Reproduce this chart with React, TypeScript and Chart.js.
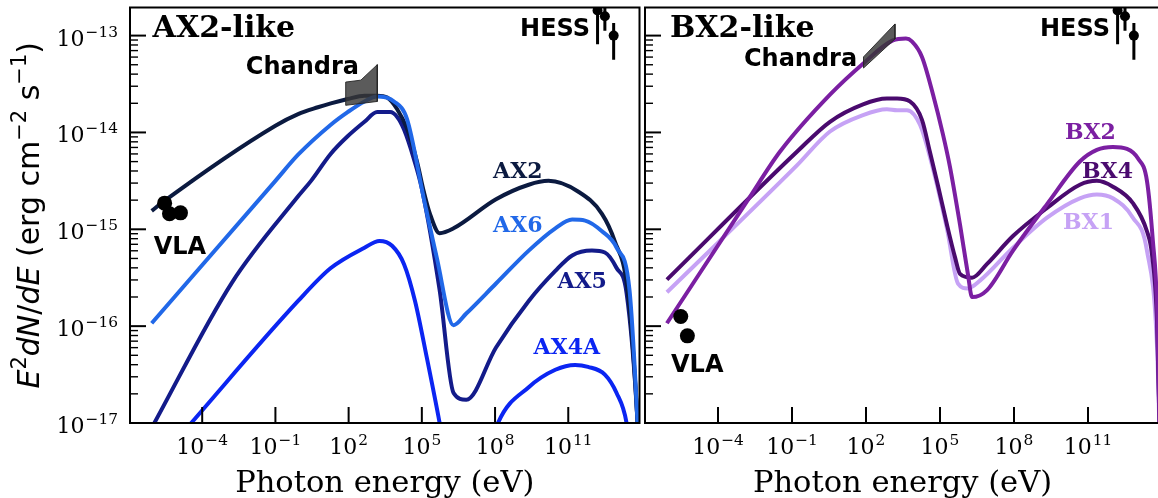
import React, { useEffect, useRef } from "react";
import { Chart, registerables } from "chart.js";

Chart.register(...registerables);

// Axis limits: photon energy (eV) and E^2 dN/dE (erg cm^-2 s^-1)
const X_MIN = 1.1e-7;
const X_MAX = 8.3e13;
const Y_MIN = 1e-17;
const Y_MAX = 1.95e-13;
const X_TICKS = [1e-4, 1e-1, 1e2, 1e5, 1e8, 1e11];
const Y_TICKS = [1e-17, 1e-16, 1e-15, 1e-14, 1e-13];

// Model spectra, log10(E / eV) against log10(E^2 dN/dE)
const AX2_LOGE = [-6.07, -5.62, -1.0, -0.07, 0.74, 1.27, 1.96, 2.65, 3.17, 3.58, 3.99, 4.39, 4.8, 5.08, 5.32, 5.73, 6.3, 8.04, 9.38, 10.19, 11.4, 12.38, 12.9, 13.43, 13.84, 13.92];
const AX2_LOGF = [-14.81, -14.72, -13.93, -13.81, -13.74, -13.7, -13.655, -13.62, -13.62, -13.64, -13.76, -13.96, -14.3, -14.61, -14.83, -15.04, -14.99, -14.69, -14.54, -14.5, -14.61, -14.84, -15.12, -15.63, -17.0, -17.48];

const AX6_LOGE = [-6.07, -1.0, -0.07, 1.27, 1.96, 2.65, 3.17, 3.86, 4.39, 5.08, 5.61, 6.3, 6.82, 8.04, 9.38, 10.47, 11.16, 11.69, 12.38, 12.98, 13.51, 13.84, 13.92];
const AX6_LOGF = [-15.97, -14.5, -14.23, -13.92, -13.79, -13.68, -13.63, -13.68, -13.86, -14.68, -15.29, -15.99, -15.87, -15.56, -15.22, -14.99, -14.9, -14.91, -15.02, -15.19, -15.63, -17.0, -17.48];

const AX5_LOGE = [-6.07, -2.78, -0.07, 0.46, 1.27, 1.96, 2.65, 3.17, 3.7, 3.99, 4.27, 4.67, 5.0, 5.73, 6.3, 6.82, 8.04, 9.38, 10.47, 11.16, 11.97, 12.5, 12.98, 13.39, 13.84, 13.92];
const AX5_LOGF = [-17.05, -15.55, -14.66, -14.5, -14.22, -14.04, -13.89, -13.79, -13.79, -13.84, -13.97, -14.27, -14.58, -15.63, -16.69, -16.76, -16.22, -15.74, -15.43, -15.27, -15.22, -15.24, -15.4, -15.66, -17.0, -17.48];

const AX4A_LOGE = [-6.07, -4.45, -0.07, 1.27, 2.65, 3.26, 3.78, 4.27, 4.72, 5.2, 5.73, 5.85, 7.0, 7.92, 8.12, 9.38, 10.47, 11.28, 11.81, 12.5, 12.98, 13.39, 13.47];
const AX4A_LOGF = [-17.47, -17.0, -15.74, -15.4, -15.19, -15.12, -15.17, -15.36, -15.74, -16.32, -17.0, -17.17, null, -17.17, -17.0, -16.63, -16.45, -16.4, -16.42, -16.5, -16.69, -17.0, -17.17];

const BX2_LOGE = [-6.07, -2.82, -1.49, 0.54, 1.88, 3.09, 3.62, 3.86, 4.27, 4.72, 5.12, 5.4, 5.81, 6.13, 6.3, 6.9, 7.96, 9.34, 10.67, 11.36, 12.01, 12.58, 13.03, 13.39, 13.63, 13.8, 13.92];
const BX2_LOGF = [-15.97, -14.71, -14.2, -13.61, -13.29, -13.05, -13.03, -13.06, -13.22, -13.61, -14.02, -14.35, -14.95, -15.46, -15.7, -15.63, -15.22, -14.74, -14.3, -14.18, -14.15, -14.17, -14.27, -14.5, -15.12, -15.81, -17.3];

const BX4_LOGE = [-6.07, -0.8, 0.54, 1.88, 2.85, 3.26, 3.78, 4.27, 4.59, 4.92, 5.28, 5.61, 5.81, 6.3, 6.9, 7.96, 9.34, 10.67, 11.36, 12.01, 12.82, 13.39, 13.59, 13.8, 13.92];
const BX4_LOGF = [-15.52, -14.2, -13.89, -13.71, -13.65, -13.65, -13.68, -13.87, -14.2, -14.55, -14.95, -15.29, -15.46, -15.5, -15.36, -15.07, -14.78, -14.54, -14.5, -14.56, -14.73, -15.02, -15.25, -15.97, -17.3];

const BX1_LOGE = [-6.07, -0.8, 0.54, 1.88, 2.85, 3.26, 3.66, 4.19, 4.59, 5.28, 5.73, 6.13, 6.62, 7.96, 9.34, 10.67, 11.36, 12.01, 12.82, 13.39, 13.8, 13.92];
const BX1_LOGF = [-15.65, -14.34, -13.99, -13.82, -13.76, -13.77, -13.77, -13.92, -14.25, -14.99, -15.56, -15.61, -15.53, -15.19, -14.88, -14.68, -14.64, -14.68, -14.88, -15.22, -16.22, -17.3];

// Observations
const VLA_A_LOGE = [-5.54, -5.34, -4.89];
const VLA_A_LOGF = [-14.73, -14.84, -14.83];
const VLA_B_LOGE = [-5.51, -5.24];
const VLA_B_LOGF = [-15.9, -16.1];
const HESS_LOGE = [12.2, 12.5, 12.86];
const HESS_LOGF = [-12.74, -12.8, -13.0];
const HESS_LO = [-13.09, -12.95, -13.25];
const HESS_HI = [-12.55, -12.66, -12.87];

// Chandra bow-ties (outline, closed)
const CHANDRA_A_LOGE = [1.88, 2.5, 3.175, 3.175, 1.88, 1.88];
const CHANDRA_A_LOGF = [-13.48, -13.46, -13.3, -13.68, -13.72, -13.48];
const CHANDRA_B_LOGE = [1.9, 3.175, 3.175, 1.9, 1.9];
const CHANDRA_B_LOGF = [-13.22, -12.88, -13.035, -13.335, -13.22];

const COLORS = {
  AX2: "#0b1a40",
  AX6: "#2168e8",
  AX5: "#131b8a",
  AX4A: "#0b25f2",
  BX2: "#7b1fa2",
  BX4: "#4a0a6e",
  BX1: "#c6a2f5",
};

const SERIF = "'DejaVu Serif'";
const SANS = "'DejaVu Sans'";

type Note = { text: string; x: number; y: number; font: string; color: string; align: CanvasTextAlign };

const LEFT_NOTES: Note[] = [
  { text: "AX2-like", x: 9.3e-7, y: 9.6e-14, font: `bold 30px ${SERIF}`, color: "#000", align: "left" },
  { text: "Chandra", x: 6.1e-3, y: 4.0e-14, font: `bold 24px ${SANS}`, color: "#000", align: "left" },
  { text: "HESS", x: 7.8e11, y: 1.0e-13, font: `bold 24px ${SANS}`, color: "#000", align: "right" },
  { text: "VLA", x: 1.03e-6, y: 5.6e-16, font: `bold 24px ${SANS}`, color: "#000", align: "left" },
  { text: "AX2", x: 8.3e7, y: 3.4e-15, font: `bold 22px ${SERIF}`, color: COLORS.AX2, align: "left" },
  { text: "AX6", x: 8.3e7, y: 9.4e-16, font: `bold 22px ${SERIF}`, color: COLORS.AX6, align: "left" },
  { text: "AX5", x: 3.6e10, y: 2.5e-16, font: `bold 22px ${SERIF}`, color: COLORS.AX5, align: "left" },
  { text: "AX4A", x: 3.8e9, y: 5.1e-17, font: `bold 22px ${SERIF}`, color: COLORS.AX4A, align: "left" },
];

const RIGHT_NOTES: Note[] = [
  { text: "BX2-like", x: 1.13e-6, y: 9.6e-14, font: `bold 30px ${SERIF}`, color: "#000", align: "left" },
  { text: "Chandra", x: 1.13e-3, y: 4.9e-14, font: `bold 24px ${SANS}`, color: "#000", align: "left" },
  { text: "HESS", x: 7.8e11, y: 1.0e-13, font: `bold 24px ${SANS}`, color: "#000", align: "right" },
  { text: "VLA", x: 1.25e-6, y: 3.4e-17, font: `bold 24px ${SANS}`, color: "#000", align: "left" },
  { text: "BX2", x: 1.16e10, y: 8.5e-15, font: `bold 22px ${SERIF}`, color: COLORS.BX2, align: "left" },
  { text: "BX4", x: 5.7e10, y: 3.4e-15, font: `bold 22px ${SERIF}`, color: COLORS.BX4, align: "left" },
  { text: "BX1", x: 9.7e9, y: 1.0e-15, font: `bold 22px ${SERIF}`, color: COLORS.BX1, align: "left" },
];

const toXY = (logE: number[], logF: (number | null)[]) =>
  logE.map((e, i) => ({ x: Math.pow(10, e), y: logF[i] === null ? null : Math.pow(10, logF[i] as number) }));

const curve = (label: string, logE: number[], logF: (number | null)[], color: string, order: number) => ({
  label,
  data: toXY(logE, logF),
  borderColor: color,
  backgroundColor: color,
  borderWidth: 4,
  pointRadius: 0,
  cubicInterpolationMode: "monotone" as const,
  spanGaps: false,
  fill: false,
  clip: 0,
  borderJoinStyle: "round" as const,
  order,
});

const bowtie = (logE: number[], logF: number[]) => ({
  label: "Chandra",
  data: toXY(logE, logF),
  borderColor: "rgba(35,35,35,0.9)",
  backgroundColor: "rgba(55,55,55,0.82)",
  borderWidth: 1,
  pointRadius: 0,
  tension: 0,
  fill: "shape",
  clip: 0,
  order: 1,
});

const markers = (label: string, logE: number[], logF: number[], radius: number) => ({
  label,
  data: toXY(logE, logF),
  showLine: false,
  pointRadius: radius,
  pointBackgroundColor: "#000",
  pointBorderWidth: 0,
  borderColor: "#000",
  clip: 0,
  order: 0,
});

const errorBars = () =>
  HESS_LOGE.map((e, i) => ({
    label: "HESS error",
    data: toXY([e, e], [HESS_LO[i], HESS_HI[i]]),
    borderColor: "#000",
    borderWidth: 3,
    pointRadius: 0,
    clip: 0,
    order: 0,
  }));

function drawPow10(ctx: CanvasRenderingContext2D, value: number, x: number, baseY: number, align: "right" | "center") {
  const exp = Math.round(Math.log10(value));
  const expText = (exp < 0 ? "\u2212" : "") + Math.abs(exp);
  ctx.font = `22px ${SERIF}`;
  const wBase = ctx.measureText("10").width;
  ctx.font = `15.4px ${SERIF}`;
  const wExp = ctx.measureText(expText).width;
  const gap = 1;
  const total = wBase + gap + wExp;
  const x0 = align === "right" ? x - total : x - total / 2;
  ctx.textAlign = "left";
  ctx.textBaseline = "alphabetic";
  ctx.font = `22px ${SERIF}`;
  ctx.fillText("10", x0, baseY);
  ctx.font = `15.4px ${SERIF}`;
  ctx.fillText(expText, x0 + wBase + gap, baseY - 9);
}

function drawYTitle(ctx: CanvasRenderingContext2D, baseX: number, cy: number) {
  const s = 30;
  const it = `italic ${s}px ${SANS}`;
  const rg = `${s}px ${SANS}`;
  const sp = `${(s * 0.7).toFixed(1)}px ${SANS}`;
  const rise = 13;
  const segs: [string, string, number][] = [
    ["E", it, 0],
    ["2", sp, rise],
    ["dN", it, 0],
    ["/", rg, 0],
    ["dE", it, 0],
    [" (erg cm", rg, 0],
    ["\u22122", sp, rise],
    [" s", rg, 0],
    ["\u22121", sp, rise],
    [")", rg, 0],
  ];
  let total = 0;
  const widths = segs.map(([t, f]) => {
    ctx.font = f;
    const w = ctx.measureText(t).width;
    total += w;
    return w;
  });
  ctx.save();
  ctx.translate(baseX, cy);
  ctx.rotate(-Math.PI / 2);
  ctx.textAlign = "left";
  ctx.textBaseline = "alphabetic";
  ctx.fillStyle = "#000";
  let x = -total / 2;
  segs.forEach(([t, f, r], i) => {
    ctx.font = f;
    ctx.fillText(t, x, -r);
    x += widths[i];
  });
  ctx.restore();
}

function panelDecor(opts: { yLabels: boolean; notes: Note[] }) {
  return {
    id: "panelDecor",
    afterDraw(chart: any) {
      const { ctx, chartArea: a, scales } = chart;
      const xs = scales.x;
      const ys = scales.y;
      ctx.save();
      ctx.strokeStyle = "#000";
      ctx.fillStyle = "#000";
      ctx.lineCap = "butt";
      const seg = (x1: number, y1: number, x2: number, y2: number, w: number) => {
        ctx.lineWidth = w;
        ctx.beginPath();
        ctx.moveTo(x1, y1);
        ctx.lineTo(x2, y2);
        ctx.stroke();
      };
      // inward ticks on the left spine
      for (const v of Y_TICKS) {
        const py = ys.getPixelForValue(v);
        seg(a.left, py, a.left + 16, py, 2);
        for (let k = 2; k <= 9; k++) {
          const mv = k * v;
          if (mv > Y_MAX) break;
          const my = ys.getPixelForValue(mv);
          seg(a.left, my, a.left + 8, my, 1.4);
        }
      }
      // inward ticks on the bottom spine
      for (const v of X_TICKS) {
        const px = xs.getPixelForValue(v);
        seg(px, a.bottom, px, a.bottom - 16, 2);
      }
      ctx.lineWidth = 2;
      ctx.strokeRect(a.left, a.top, a.right - a.left, a.bottom - a.top);

      // tick labels
      for (const v of X_TICKS) drawPow10(ctx, v, xs.getPixelForValue(v), a.bottom + 31, "center");
      if (opts.yLabels) {
        for (const v of Y_TICKS) drawPow10(ctx, v, a.left - 12, ys.getPixelForValue(v) + 10, "right");
        drawYTitle(ctx, 39, (a.top + a.bottom) / 2);
      }

      // annotations
      ctx.textBaseline = "alphabetic";
      for (const n of opts.notes) {
        ctx.font = n.font;
        ctx.fillStyle = n.color;
        ctx.textAlign = n.align;
        ctx.fillText(n.text, xs.getPixelForValue(n.x), ys.getPixelForValue(n.y));
      }
      ctx.restore();
    },
  };
}

function makeConfig(datasets: any[], yWidth: number, padRight: number, yLabels: boolean, notes: Note[]) {
  return {
    type: "line" as const,
    data: { datasets },
    options: {
      responsive: false,
      animation: false as const,
      devicePixelRatio: 1,
      events: [] as any[],
      layout: { padding: { left: 0, right: padRight, top: 5, bottom: 0 } },
      plugins: { legend: { display: false }, tooltip: { enabled: false } },
      scales: {
        x: {
          type: "logarithmic" as const,
          min: X_MIN,
          max: X_MAX,
          bounds: "data" as const,
          afterBuildTicks: (s: any) => {
            s.ticks = X_TICKS.map((value) => ({ value }));
          },
          afterFit: (s: any) => {
            s.height = 75;
          },
          ticks: { display: false },
          grid: { display: false, drawTicks: false },
          border: { display: false },
          title: {
            display: true,
            text: "Photon energy (eV)",
            color: "#000",
            font: { family: "DejaVu Serif", size: 30.5, lineHeight: 0.9 },
            padding: { top: 0, bottom: 0 },
          },
        },
        y: {
          type: "logarithmic" as const,
          min: Y_MIN,
          max: Y_MAX,
          bounds: "data" as const,
          afterBuildTicks: (s: any) => {
            s.ticks = Y_TICKS.map((value) => ({ value }));
          },
          afterFit: (s: any) => {
            s.width = yWidth;
          },
          ticks: { display: false },
          grid: { display: false, drawTicks: false },
          border: { display: false },
        },
      },
    },
    plugins: [panelDecor({ yLabels, notes })],
  };
}

export default function App() {
  const leftRef = useRef<HTMLCanvasElement>(null);
  const rightRef = useRef<HTMLCanvasElement>(null);

  useEffect(() => {
    const leftSets = [
      markers("VLA", VLA_A_LOGE, VLA_A_LOGF, 7.5),
      markers("HESS", HESS_LOGE, HESS_LOGF, 5),
      ...errorBars(),
      bowtie(CHANDRA_A_LOGE, CHANDRA_A_LOGF),
      curve("AX6", AX6_LOGE, AX6_LOGF, COLORS.AX6, 2),
      curve("AX2", AX2_LOGE, AX2_LOGF, COLORS.AX2, 3),
      curve("AX5", AX5_LOGE, AX5_LOGF, COLORS.AX5, 4),
      curve("AX4A", AX4A_LOGE, AX4A_LOGF, COLORS.AX4A, 5),
    ];
    const rightSets = [
      markers("VLA", VLA_B_LOGE, VLA_B_LOGF, 7.5),
      markers("HESS", HESS_LOGE, HESS_LOGF, 5),
      ...errorBars(),
      bowtie(CHANDRA_B_LOGE, CHANDRA_B_LOGF),
      curve("BX2", BX2_LOGE, BX2_LOGF, COLORS.BX2, 2),
      curve("BX4", BX4_LOGE, BX4_LOGF, COLORS.BX4, 3),
      curve("BX1", BX1_LOGE, BX1_LOGF, COLORS.BX1, 4),
    ];
    const left = new Chart(leftRef.current as HTMLCanvasElement, makeConfig(leftSets, 130, 2, true, LEFT_NOTES) as any);
    const right = new Chart(rightRef.current as HTMLCanvasElement, makeConfig(rightSets, 20, 10, false, RIGHT_NOTES) as any);
    return () => {
      left.destroy();
      right.destroy();
    };
  }, []);

  return (
    <div
      style={{
        position: "absolute",
        left: 0,
        top: 0,
        width: 1158,
        height: 498,
        overflow: "hidden",
        background: "#fff",
      }}
    >
      <canvas ref={leftRef} width={647} height={498} style={{ position: "absolute", left: 0, top: 0, width: 647, height: 498 }} />
      <canvas ref={rightRef} width={545} height={498} style={{ position: "absolute", left: 625, top: 0, width: 545, height: 498 }} />
    </div>
  );
}
